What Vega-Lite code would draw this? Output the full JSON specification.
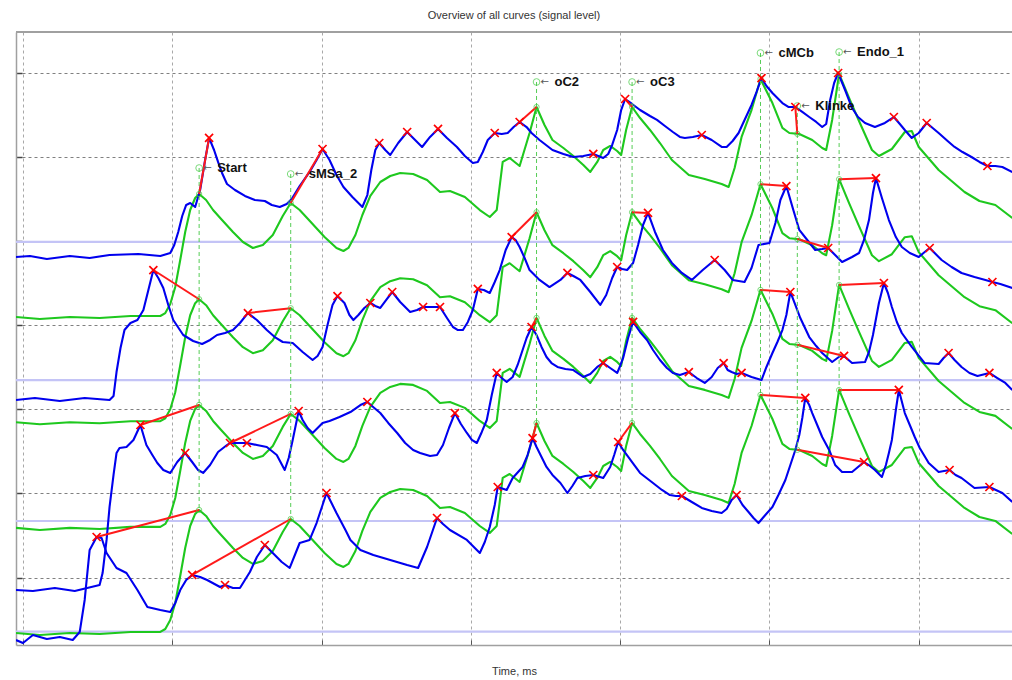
{
  "$schema": "https://vega.github.io/schema/vega-lite/v6.json",
  "width": 996,
  "height": 613,
  "autosize": {"type": "none"},
  "padding": {"left": 16, "top": 32, "right": 0, "bottom": 35},
  "background": "white",
  "title": {"text": "Overview of all curves (signal level)", "font": "Liberation Sans", "fontSize": 11, "fontWeight": "normal", "color": "#333333", "anchor": "middle", "offset": 10},
  "config": {
    "view": {"stroke": null},
    "axisX": {"grid": true, "gridColor": "#a8a8a8", "gridDash": [3, 3], "gridWidth": 1, "labels": false, "ticks": true, "tickSize": -5, "tickColor": "#555555", "domainColor": "#a0a0a0", "domainWidth": 1.5, "titleFont": "Liberation Sans", "titleFontSize": 11, "titleFontWeight": "normal", "titleColor": "#333333", "titlePadding": 20},
    "axisY": {"grid": true, "gridColor": "#808080", "gridDash": [3, 3], "gridWidth": 1, "labels": false, "ticks": true, "tickSize": -6, "tickColor": "#444444", "tickWidth": 1.5, "domainColor": "#a0a0a0", "domainWidth": 1.5}
  },
  "datasets": {
    "baselines": [{"level": 4.79}, {"level": 3.148}, {"level": 1.473}, {"level": 0.158}],
    "frame": [{"level": 7.283}],
    "green": [
      {"time": -7, "g1": 3.897, "g2": 2.647, "g3": 1.391, "g4": 0.143},
      {"time": 17, "g1": 3.873, "g2": 2.623, "g3": 1.367, "g4": 0.119},
      {"time": 47, "g1": 3.897, "g2": 2.647, "g3": 1.391, "g4": 0.143},
      {"time": 77, "g1": 3.885, "g2": 2.635, "g3": 1.379, "g4": 0.131},
      {"time": 108, "g1": 3.909, "g2": 2.659, "g3": 1.403, "g4": 0.155},
      {"time": 138, "g1": 3.909, "g2": 2.659, "g3": 1.403, "g4": 0.155},
      {"time": 143, "g1": 3.944, "g2": 2.694, "g3": 1.438, "g4": 0.19},
      {"time": 148, "g1": 4.051, "g2": 2.801, "g3": 1.545, "g4": 0.297},
      {"time": 153, "g1": 4.253, "g2": 3.003, "g3": 1.747, "g4": 0.499},
      {"time": 158, "g1": 4.574, "g2": 3.324, "g3": 2.068, "g4": 0.82},
      {"time": 163, "g1": 4.907, "g2": 3.657, "g3": 2.401, "g4": 1.153},
      {"time": 168, "g1": 5.168, "g2": 3.918, "g3": 2.662, "g4": 1.414},
      {"time": 173, "g1": 5.311, "g2": 4.061, "g3": 2.805, "g4": 1.557},
      {"time": 177, "g1": 5.358, "g2": 4.108, "g3": 2.852, "g4": 1.604},
      {"time": 184, "g1": 5.287, "g2": 4.037, "g3": 2.781, "g4": 1.533},
      {"time": 191, "g1": 5.168, "g2": 3.918, "g3": 2.662, "g4": 1.414},
      {"time": 200, "g1": 5.049, "g2": 3.799, "g3": 2.543, "g4": 1.295},
      {"time": 211, "g1": 4.907, "g2": 3.657, "g3": 2.401, "g4": 1.153},
      {"time": 221, "g1": 4.788, "g2": 3.538, "g3": 2.282, "g4": 1.034},
      {"time": 231, "g1": 4.717, "g2": 3.467, "g3": 2.211, "g4": 0.963},
      {"time": 241, "g1": 4.752, "g2": 3.502, "g3": 2.246, "g4": 0.998},
      {"time": 251, "g1": 4.871, "g2": 3.621, "g3": 2.365, "g4": 1.117},
      {"time": 261, "g1": 5.097, "g2": 3.847, "g3": 2.591, "g4": 1.343},
      {"time": 269, "g1": 5.251, "g2": 4.001, "g3": 2.745, "g4": 1.497},
      {"time": 278, "g1": 5.168, "g2": 3.918, "g3": 2.662, "g4": 1.414},
      {"time": 291, "g1": 5.002, "g2": 3.752, "g3": 2.496, "g4": 1.248},
      {"time": 303, "g1": 4.847, "g2": 3.597, "g3": 2.341, "g4": 1.093},
      {"time": 315, "g1": 4.717, "g2": 3.467, "g3": 2.211, "g4": 0.963},
      {"time": 322, "g1": 4.681, "g2": 3.431, "g3": 2.175, "g4": 0.927},
      {"time": 327, "g1": 4.717, "g2": 3.467, "g3": 2.211, "g4": 0.963},
      {"time": 334, "g1": 4.871, "g2": 3.621, "g3": 2.365, "g4": 1.117},
      {"time": 341, "g1": 5.109, "g2": 3.859, "g3": 2.603, "g4": 1.355},
      {"time": 349, "g1": 5.335, "g2": 4.085, "g3": 2.829, "g4": 1.581},
      {"time": 359, "g1": 5.501, "g2": 4.251, "g3": 2.995, "g4": 1.747},
      {"time": 369, "g1": 5.572, "g2": 4.322, "g3": 3.066, "g4": 1.818},
      {"time": 379, "g1": 5.608, "g2": 4.358, "g3": 3.102, "g4": 1.854},
      {"time": 392, "g1": 5.596, "g2": 4.346, "g3": 3.09, "g4": 1.842},
      {"time": 406, "g1": 5.525, "g2": 4.275, "g3": 3.019, "g4": 1.771},
      {"time": 419, "g1": 5.382, "g2": 4.132, "g3": 2.876, "g4": 1.628},
      {"time": 429, "g1": 5.394, "g2": 4.144, "g3": 2.888, "g4": 1.64},
      {"time": 444, "g1": 5.323, "g2": 4.073, "g3": 2.817, "g4": 1.569},
      {"time": 459, "g1": 5.168, "g2": 3.918, "g3": 2.662, "g4": 1.414},
      {"time": 469, "g1": 5.085, "g2": 3.835, "g3": 2.579, "g4": 1.331},
      {"time": 476, "g1": 5.168, "g2": 3.918, "g3": 2.662, "g4": 1.414},
      {"time": 482, "g1": 5.739, "g2": 4.489, "g3": 3.233, "g4": 1.985},
      {"time": 489, "g1": 5.786, "g2": 4.536, "g3": 3.28, "g4": 2.032},
      {"time": 499, "g1": 5.691, "g2": 4.441, "g3": 3.185, "g4": 1.937},
      {"time": 509, "g1": 6.083, "g2": 4.833, "g3": 3.577, "g4": 2.329},
      {"time": 516, "g1": 6.392, "g2": 5.142, "g3": 3.886, "g4": 2.638},
      {"time": 524, "g1": 6.178, "g2": 4.928, "g3": 3.672, "g4": 2.424},
      {"time": 532, "g1": 6.0, "g2": 4.75, "g3": 3.494, "g4": 2.246},
      {"time": 543, "g1": 5.905, "g2": 4.655, "g3": 3.399, "g4": 2.151},
      {"time": 553, "g1": 5.81, "g2": 4.56, "g3": 3.304, "g4": 2.056},
      {"time": 563, "g1": 5.703, "g2": 4.453, "g3": 3.197, "g4": 1.949},
      {"time": 570, "g1": 5.62, "g2": 4.37, "g3": 3.114, "g4": 1.866},
      {"time": 577, "g1": 5.739, "g2": 4.489, "g3": 3.233, "g4": 1.985},
      {"time": 583, "g1": 5.881, "g2": 4.631, "g3": 3.375, "g4": 2.127},
      {"time": 590, "g1": 5.929, "g2": 4.679, "g3": 3.423, "g4": 2.175},
      {"time": 597, "g1": 5.869, "g2": 4.619, "g3": 3.363, "g4": 2.115},
      {"time": 601, "g1": 5.822, "g2": 4.572, "g3": 3.316, "g4": 2.068},
      {"time": 606, "g1": 6.119, "g2": 4.869, "g3": 3.613, "g4": 2.365},
      {"time": 612, "g1": 6.392, "g2": 5.142, "g3": 3.886, "g4": 2.638},
      {"time": 620, "g1": 6.261, "g2": 5.011, "g3": 3.755, "g4": 2.507},
      {"time": 630, "g1": 6.119, "g2": 4.869, "g3": 3.613, "g4": 2.365},
      {"time": 640, "g1": 5.964, "g2": 4.714, "g3": 3.458, "g4": 2.21},
      {"time": 652, "g1": 5.762, "g2": 4.512, "g3": 3.256, "g4": 2.008},
      {"time": 669, "g1": 5.584, "g2": 4.334, "g3": 3.078, "g4": 1.83},
      {"time": 685, "g1": 5.537, "g2": 4.287, "g3": 3.031, "g4": 1.783},
      {"time": 702, "g1": 5.477, "g2": 4.227, "g3": 2.971, "g4": 1.723},
      {"time": 709, "g1": 5.442, "g2": 4.192, "g3": 2.936, "g4": 1.688},
      {"time": 715, "g1": 5.667, "g2": 4.417, "g3": 3.161, "g4": 1.913},
      {"time": 722, "g1": 6.036, "g2": 4.786, "g3": 3.53, "g4": 2.282},
      {"time": 732, "g1": 6.356, "g2": 5.106, "g3": 3.85, "g4": 2.602},
      {"time": 741, "g1": 6.725, "g2": 5.475, "g3": 4.219, "g4": 2.971},
      {"time": 753, "g1": 6.439, "g2": 5.189, "g3": 3.933, "g4": 2.685},
      {"time": 763, "g1": 6.143, "g2": 4.893, "g3": 3.637, "g4": 2.389},
      {"time": 770, "g1": 6.083, "g2": 4.833, "g3": 3.577, "g4": 2.329},
      {"time": 780, "g1": 6.071, "g2": 4.821, "g3": 3.565, "g4": 2.317},
      {"time": 793, "g1": 6.0, "g2": 4.75, "g3": 3.494, "g4": 2.246},
      {"time": 803, "g1": 5.905, "g2": 4.655, "g3": 3.399, "g4": 2.151},
      {"time": 807, "g1": 5.881, "g2": 4.631, "g3": 3.375, "g4": 2.127},
      {"time": 813, "g1": 6.238, "g2": 4.988, "g3": 3.732, "g4": 2.484},
      {"time": 820, "g1": 6.784, "g2": 5.534, "g3": 4.278, "g4": 3.03},
      {"time": 830, "g1": 6.499, "g2": 5.249, "g3": 3.993, "g4": 2.745},
      {"time": 840, "g1": 6.226, "g2": 4.976, "g3": 3.72, "g4": 2.472},
      {"time": 853, "g1": 5.881, "g2": 4.631, "g3": 3.375, "g4": 2.127},
      {"time": 860, "g1": 5.81, "g2": 4.56, "g3": 3.304, "g4": 2.056},
      {"time": 873, "g1": 5.893, "g2": 4.643, "g3": 3.387, "g4": 2.139},
      {"time": 886, "g1": 6.095, "g2": 4.845, "g3": 3.589, "g4": 2.341},
      {"time": 893, "g1": 6.107, "g2": 4.857, "g3": 3.601, "g4": 2.353},
      {"time": 900, "g1": 5.917, "g2": 4.667, "g3": 3.411, "g4": 2.163},
      {"time": 920, "g1": 5.643, "g2": 4.393, "g3": 3.137, "g4": 1.889},
      {"time": 946, "g1": 5.382, "g2": 4.132, "g3": 2.876, "g4": 1.628},
      {"time": 961, "g1": 5.275, "g2": 4.025, "g3": 2.769, "g4": 1.521},
      {"time": 977, "g1": 5.228, "g2": 3.978, "g3": 2.722, "g4": 1.474},
      {"time": 994, "g1": 5.073, "g2": 3.823, "g3": 2.567, "g4": 1.319}
    ],
    "blue": [
      {"curve": "b1", "time": -7, "level": 4.61}, {"curve": "b1", "time": 7, "level": 4.622}, {"curve": "b1", "time": 24, "level": 4.586}, {"curve": "b1", "time": 47, "level": 4.622}, {"curve": "b1", "time": 67, "level": 4.598}, {"curve": "b1", "time": 87, "level": 4.634}, {"curve": "b1", "time": 116, "level": 4.645}, {"curve": "b1", "time": 138, "level": 4.622}, {"curve": "b1", "time": 148, "level": 4.657}, {"curve": "b1", "time": 152, "level": 4.752}, {"curve": "b1", "time": 156, "level": 4.907}, {"curve": "b1", "time": 160, "level": 5.097}, {"curve": "b1", "time": 164, "level": 5.228}, {"curve": "b1", "time": 168, "level": 5.251}, {"curve": "b1", "time": 173, "level": 5.204}, {"curve": "b1", "time": 178, "level": 5.406}, {"curve": "b1", "time": 183, "level": 5.762}, {"curve": "b1", "time": 187, "level": 6.024}, {"curve": "b1", "time": 192, "level": 5.881}, {"curve": "b1", "time": 196, "level": 5.739}, {"curve": "b1", "time": 200, "level": 5.608}, {"curve": "b1", "time": 205, "level": 5.477}, {"curve": "b1", "time": 213, "level": 5.406}, {"curve": "b1", "time": 223, "level": 5.335}, {"curve": "b1", "time": 233, "level": 5.287}, {"curve": "b1", "time": 243, "level": 5.275}, {"curve": "b1", "time": 250, "level": 5.228}, {"curve": "b1", "time": 258, "level": 5.204}, {"curve": "b1", "time": 265, "level": 5.24}, {"curve": "b1", "time": 270, "level": 5.299}, {"curve": "b1", "time": 278, "level": 5.453}, {"curve": "b1", "time": 288, "level": 5.62}, {"curve": "b1", "time": 295, "level": 5.762}, {"curve": "b1", "time": 301, "level": 5.893}, {"curve": "b1", "time": 308, "level": 5.762}, {"curve": "b1", "time": 315, "level": 5.584}, {"curve": "b1", "time": 322, "level": 5.442}, {"curve": "b1", "time": 331, "level": 5.323}, {"curve": "b1", "time": 341, "level": 5.204}, {"curve": "b1", "time": 346, "level": 5.346}, {"curve": "b1", "time": 350, "level": 5.643}, {"curve": "b1", "time": 354, "level": 5.881}, {"curve": "b1", "time": 358, "level": 5.964}, {"curve": "b1", "time": 364, "level": 5.881}, {"curve": "b1", "time": 369, "level": 5.822}, {"curve": "b1", "time": 377, "level": 5.964}, {"curve": "b1", "time": 386, "level": 6.095}, {"curve": "b1", "time": 394, "level": 6.0}, {"curve": "b1", "time": 401, "level": 5.917}, {"curve": "b1", "time": 409, "level": 6.036}, {"curve": "b1", "time": 417, "level": 6.131}, {"curve": "b1", "time": 426, "level": 6.024}, {"curve": "b1", "time": 436, "level": 5.917}, {"curve": "b1", "time": 444, "level": 5.81}, {"curve": "b1", "time": 452, "level": 5.727}, {"curve": "b1", "time": 457, "level": 5.739}, {"curve": "b1", "time": 462, "level": 5.857}, {"curve": "b1", "time": 467, "level": 6.0}, {"curve": "b1", "time": 474, "level": 6.083}, {"curve": "b1", "time": 481, "level": 6.071}, {"curve": "b1", "time": 487, "level": 6.083}, {"curve": "b1", "time": 493, "level": 6.154}, {"curve": "b1", "time": 499, "level": 6.214}, {"curve": "b1", "time": 506, "level": 6.154}, {"curve": "b1", "time": 511, "level": 6.083}, {"curve": "b1", "time": 519, "level": 6.0}, {"curve": "b1", "time": 532, "level": 5.881}, {"curve": "b1", "time": 543, "level": 5.834}, {"curve": "b1", "time": 553, "level": 5.798}, {"curve": "b1", "time": 563, "level": 5.81}, {"curve": "b1", "time": 573, "level": 5.834}, {"curve": "b1", "time": 583, "level": 5.786}, {"curve": "b1", "time": 588, "level": 5.834}, {"curve": "b1", "time": 592, "level": 5.941}, {"curve": "b1", "time": 597, "level": 6.119}, {"curve": "b1", "time": 601, "level": 6.356}, {"curve": "b1", "time": 605, "level": 6.487}, {"curve": "b1", "time": 612, "level": 6.428}, {"curve": "b1", "time": 620, "level": 6.356}, {"curve": "b1", "time": 630, "level": 6.285}, {"curve": "b1", "time": 637, "level": 6.238}, {"curve": "b1", "time": 645, "level": 6.166}, {"curve": "b1", "time": 653, "level": 6.095}, {"curve": "b1", "time": 660, "level": 6.036}, {"curve": "b1", "time": 665, "level": 6.024}, {"curve": "b1", "time": 673, "level": 6.036}, {"curve": "b1", "time": 682, "level": 6.059}, {"curve": "b1", "time": 692, "level": 6.0}, {"curve": "b1", "time": 702, "level": 5.917}, {"curve": "b1", "time": 707, "level": 5.917}, {"curve": "b1", "time": 713, "level": 5.988}, {"curve": "b1", "time": 719, "level": 6.083}, {"curve": "b1", "time": 725, "level": 6.238}, {"curve": "b1", "time": 732, "level": 6.416}, {"curve": "b1", "time": 737, "level": 6.57}, {"curve": "b1", "time": 742, "level": 6.736}, {"curve": "b1", "time": 747, "level": 6.641}, {"curve": "b1", "time": 753, "level": 6.558}, {"curve": "b1", "time": 763, "level": 6.439}, {"curve": "b1", "time": 769, "level": 6.392}, {"curve": "b1", "time": 776, "level": 6.392}, {"curve": "b1", "time": 783, "level": 6.333}, {"curve": "b1", "time": 790, "level": 6.273}, {"curve": "b1", "time": 797, "level": 6.214}, {"curve": "b1", "time": 803, "level": 6.154}, {"curve": "b1", "time": 807, "level": 6.19}, {"curve": "b1", "time": 811, "level": 6.475}, {"curve": "b1", "time": 815, "level": 6.677}, {"curve": "b1", "time": 819, "level": 6.796}, {"curve": "b1", "time": 826, "level": 6.594}, {"curve": "b1", "time": 833, "level": 6.38}, {"curve": "b1", "time": 839, "level": 6.273}, {"curve": "b1", "time": 846, "level": 6.202}, {"curve": "b1", "time": 856, "level": 6.154}, {"curve": "b1", "time": 866, "level": 6.202}, {"curve": "b1", "time": 875, "level": 6.273}, {"curve": "b1", "time": 881, "level": 6.19}, {"curve": "b1", "time": 886, "level": 6.119}, {"curve": "b1", "time": 893, "level": 6.024}, {"curve": "b1", "time": 900, "level": 6.083}, {"curve": "b1", "time": 908, "level": 6.202}, {"curve": "b1", "time": 914, "level": 6.143}, {"curve": "b1", "time": 920, "level": 6.083}, {"curve": "b1", "time": 929, "level": 5.988}, {"curve": "b1", "time": 936, "level": 5.917}, {"curve": "b1", "time": 944, "level": 5.857}, {"curve": "b1", "time": 953, "level": 5.798}, {"curve": "b1", "time": 961, "level": 5.739}, {"curve": "b1", "time": 969, "level": 5.691}, {"curve": "b1", "time": 977, "level": 5.691}, {"curve": "b1", "time": 984, "level": 5.679}, {"curve": "b1", "time": 994, "level": 5.62},
      {"curve": "b2", "time": -7, "level": 2.911}, {"curve": "b2", "time": 12, "level": 2.935}, {"curve": "b2", "time": 37, "level": 2.899}, {"curve": "b2", "time": 62, "level": 2.935}, {"curve": "b2", "time": 87, "level": 2.911}, {"curve": "b2", "time": 91, "level": 2.958}, {"curve": "b2", "time": 94, "level": 3.243}, {"curve": "b2", "time": 98, "level": 3.529}, {"curve": "b2", "time": 102, "level": 3.742}, {"curve": "b2", "time": 108, "level": 3.826}, {"curve": "b2", "time": 115, "level": 3.861}, {"curve": "b2", "time": 121, "level": 3.98}, {"curve": "b2", "time": 126, "level": 4.218}, {"curve": "b2", "time": 131, "level": 4.455}, {"curve": "b2", "time": 136, "level": 4.36}, {"curve": "b2", "time": 141, "level": 4.241}, {"curve": "b2", "time": 146, "level": 4.04}, {"curve": "b2", "time": 151, "level": 3.861}, {"curve": "b2", "time": 161, "level": 3.683}, {"curve": "b2", "time": 171, "level": 3.612}, {"curve": "b2", "time": 180, "level": 3.576}, {"curve": "b2", "time": 188, "level": 3.624}, {"curve": "b2", "time": 195, "level": 3.683}, {"curve": "b2", "time": 203, "level": 3.707}, {"curve": "b2", "time": 211, "level": 3.742}, {"curve": "b2", "time": 218, "level": 3.826}, {"curve": "b2", "time": 226, "level": 3.944}, {"curve": "b2", "time": 235, "level": 3.861}, {"curve": "b2", "time": 245, "level": 3.742}, {"curve": "b2", "time": 253, "level": 3.659}, {"curve": "b2", "time": 261, "level": 3.6}, {"curve": "b2", "time": 271, "level": 3.588}, {"curve": "b2", "time": 281, "level": 3.481}, {"curve": "b2", "time": 291, "level": 3.386}, {"curve": "b2", "time": 296, "level": 3.434}, {"curve": "b2", "time": 301, "level": 3.541}, {"curve": "b2", "time": 306, "level": 3.802}, {"curve": "b2", "time": 311, "level": 4.04}, {"curve": "b2", "time": 316, "level": 4.146}, {"curve": "b2", "time": 323, "level": 4.063}, {"curve": "b2", "time": 328, "level": 3.921}, {"curve": "b2", "time": 332, "level": 3.861}, {"curve": "b2", "time": 337, "level": 3.921}, {"curve": "b2", "time": 343, "level": 4.004}, {"curve": "b2", "time": 349, "level": 4.063}, {"curve": "b2", "time": 354, "level": 4.028}, {"curve": "b2", "time": 359, "level": 4.004}, {"curve": "b2", "time": 365, "level": 4.099}, {"curve": "b2", "time": 371, "level": 4.194}, {"curve": "b2", "time": 379, "level": 4.075}, {"curve": "b2", "time": 389, "level": 3.956}, {"curve": "b2", "time": 396, "level": 3.98}, {"curve": "b2", "time": 402, "level": 4.016}, {"curve": "b2", "time": 411, "level": 4.016}, {"curve": "b2", "time": 419, "level": 4.016}, {"curve": "b2", "time": 426, "level": 3.885}, {"curve": "b2", "time": 432, "level": 3.778}, {"curve": "b2", "time": 437, "level": 3.742}, {"curve": "b2", "time": 442, "level": 3.742}, {"curve": "b2", "time": 447, "level": 3.838}, {"curve": "b2", "time": 452, "level": 3.98}, {"curve": "b2", "time": 457, "level": 4.23}, {"curve": "b2", "time": 463, "level": 4.218}, {"curve": "b2", "time": 469, "level": 4.182}, {"curve": "b2", "time": 474, "level": 4.313}, {"curve": "b2", "time": 479, "level": 4.455}, {"curve": "b2", "time": 485, "level": 4.693}, {"curve": "b2", "time": 491, "level": 4.847}, {"curve": "b2", "time": 495, "level": 4.812}, {"curve": "b2", "time": 499, "level": 4.729}, {"curve": "b2", "time": 504, "level": 4.598}, {"curve": "b2", "time": 509, "level": 4.455}, {"curve": "b2", "time": 519, "level": 4.337}, {"curve": "b2", "time": 529, "level": 4.253}, {"curve": "b2", "time": 540, "level": 4.337}, {"curve": "b2", "time": 547, "level": 4.42}, {"curve": "b2", "time": 553, "level": 4.384}, {"curve": "b2", "time": 560, "level": 4.337}, {"curve": "b2", "time": 570, "level": 4.194}, {"curve": "b2", "time": 580, "level": 4.04}, {"curve": "b2", "time": 586, "level": 4.158}, {"curve": "b2", "time": 592, "level": 4.36}, {"curve": "b2", "time": 597, "level": 4.491}, {"curve": "b2", "time": 602, "level": 4.467}, {"curve": "b2", "time": 607, "level": 4.455}, {"curve": "b2", "time": 613, "level": 4.539}, {"curve": "b2", "time": 618, "level": 4.752}, {"curve": "b2", "time": 623, "level": 4.99}, {"curve": "b2", "time": 628, "level": 5.133}, {"curve": "b2", "time": 635, "level": 4.907}, {"curve": "b2", "time": 643, "level": 4.693}, {"curve": "b2", "time": 652, "level": 4.539}, {"curve": "b2", "time": 662, "level": 4.42}, {"curve": "b2", "time": 672, "level": 4.337}, {"curve": "b2", "time": 683, "level": 4.455}, {"curve": "b2", "time": 695, "level": 4.574}, {"curve": "b2", "time": 705, "level": 4.455}, {"curve": "b2", "time": 713, "level": 4.337}, {"curve": "b2", "time": 725, "level": 4.313}, {"curve": "b2", "time": 732, "level": 4.479}, {"curve": "b2", "time": 739, "level": 4.752}, {"curve": "b2", "time": 750, "level": 4.776}, {"curve": "b2", "time": 756, "level": 5.014}, {"curve": "b2", "time": 761, "level": 5.287}, {"curve": "b2", "time": 767, "level": 5.453}, {"curve": "b2", "time": 774, "level": 5.168}, {"curve": "b2", "time": 780, "level": 4.931}, {"curve": "b2", "time": 788, "level": 4.812}, {"curve": "b2", "time": 796, "level": 4.693}, {"curve": "b2", "time": 803, "level": 4.705}, {"curve": "b2", "time": 809, "level": 4.717}, {"curve": "b2", "time": 816, "level": 4.634}, {"curve": "b2", "time": 823, "level": 4.551}, {"curve": "b2", "time": 833, "level": 4.61}, {"curve": "b2", "time": 840, "level": 4.657}, {"curve": "b2", "time": 845, "level": 4.812}, {"curve": "b2", "time": 850, "level": 5.049}, {"curve": "b2", "time": 854, "level": 5.37}, {"curve": "b2", "time": 857, "level": 5.548}, {"curve": "b2", "time": 863, "level": 5.311}, {"curve": "b2", "time": 870, "level": 5.049}, {"curve": "b2", "time": 877, "level": 4.847}, {"curve": "b2", "time": 883, "level": 4.729}, {"curve": "b2", "time": 891, "level": 4.657}, {"curve": "b2", "time": 900, "level": 4.61}, {"curve": "b2", "time": 906, "level": 4.669}, {"curve": "b2", "time": 911, "level": 4.717}, {"curve": "b2", "time": 917, "level": 4.645}, {"curve": "b2", "time": 923, "level": 4.574}, {"curve": "b2", "time": 933, "level": 4.491}, {"curve": "b2", "time": 943, "level": 4.42}, {"curve": "b2", "time": 956, "level": 4.372}, {"curve": "b2", "time": 967, "level": 4.337}, {"curve": "b2", "time": 974, "level": 4.313}, {"curve": "b2", "time": 982, "level": 4.289}, {"curve": "b2", "time": 994, "level": 4.241},
      {"curve": "b3", "time": -7, "level": 0.653}, {"curve": "b3", "time": 10, "level": 0.642}, {"curve": "b3", "time": 32, "level": 0.677}, {"curve": "b3", "time": 52, "level": 0.642}, {"curve": "b3", "time": 77, "level": 0.713}, {"curve": "b3", "time": 80, "level": 0.855}, {"curve": "b3", "time": 84, "level": 1.248}, {"curve": "b3", "time": 87, "level": 1.64}, {"curve": "b3", "time": 91, "level": 2.02}, {"curve": "b3", "time": 94, "level": 2.281}, {"curve": "b3", "time": 97, "level": 2.341}, {"curve": "b3", "time": 104, "level": 2.352}, {"curve": "b3", "time": 111, "level": 2.436}, {"curve": "b3", "time": 118, "level": 2.614}, {"curve": "b3", "time": 124, "level": 2.376}, {"curve": "b3", "time": 130, "level": 2.257}, {"curve": "b3", "time": 135, "level": 2.162}, {"curve": "b3", "time": 141, "level": 2.079}, {"curve": "b3", "time": 148, "level": 2.044}, {"curve": "b3", "time": 155, "level": 2.174}, {"curve": "b3", "time": 163, "level": 2.281}, {"curve": "b3", "time": 170, "level": 2.174}, {"curve": "b3", "time": 176, "level": 2.079}, {"curve": "b3", "time": 181, "level": 2.044}, {"curve": "b3", "time": 188, "level": 2.139}, {"curve": "b3", "time": 196, "level": 2.293}, {"curve": "b3", "time": 205, "level": 2.376}, {"curve": "b3", "time": 208, "level": 2.4}, {"curve": "b3", "time": 216, "level": 2.4}, {"curve": "b3", "time": 225, "level": 2.4}, {"curve": "b3", "time": 235, "level": 2.376}, {"curve": "b3", "time": 245, "level": 2.352}, {"curve": "b3", "time": 255, "level": 2.257}, {"curve": "b3", "time": 263, "level": 2.079}, {"curve": "b3", "time": 267, "level": 2.222}, {"curve": "b3", "time": 271, "level": 2.436}, {"curve": "b3", "time": 277, "level": 2.78}, {"curve": "b3", "time": 281, "level": 2.673}, {"curve": "b3", "time": 286, "level": 2.578}, {"curve": "b3", "time": 291, "level": 2.519}, {"curve": "b3", "time": 296, "level": 2.578}, {"curve": "b3", "time": 301, "level": 2.638}, {"curve": "b3", "time": 308, "level": 2.661}, {"curve": "b3", "time": 318, "level": 2.709}, {"curve": "b3", "time": 329, "level": 2.768}, {"curve": "b3", "time": 339, "level": 2.851}, {"curve": "b3", "time": 346, "level": 2.887}, {"curve": "b3", "time": 353, "level": 2.816}, {"curve": "b3", "time": 359, "level": 2.756}, {"curve": "b3", "time": 367, "level": 2.638}, {"curve": "b3", "time": 376, "level": 2.519}, {"curve": "b3", "time": 384, "level": 2.4}, {"curve": "b3", "time": 392, "level": 2.317}, {"curve": "b3", "time": 399, "level": 2.281}, {"curve": "b3", "time": 409, "level": 2.245}, {"curve": "b3", "time": 416, "level": 2.257}, {"curve": "b3", "time": 422, "level": 2.376}, {"curve": "b3", "time": 428, "level": 2.578}, {"curve": "b3", "time": 434, "level": 2.756}, {"curve": "b3", "time": 440, "level": 2.626}, {"curve": "b3", "time": 446, "level": 2.519}, {"curve": "b3", "time": 451, "level": 2.436}, {"curve": "b3", "time": 456, "level": 2.4}, {"curve": "b3", "time": 461, "level": 2.531}, {"curve": "b3", "time": 466, "level": 2.673}, {"curve": "b3", "time": 471, "level": 2.97}, {"curve": "b3", "time": 476, "level": 3.232}, {"curve": "b3", "time": 481, "level": 3.172}, {"curve": "b3", "time": 486, "level": 3.125}, {"curve": "b3", "time": 492, "level": 3.184}, {"curve": "b3", "time": 497, "level": 3.327}, {"curve": "b3", "time": 501, "level": 3.469}, {"curve": "b3", "time": 506, "level": 3.647}, {"curve": "b3", "time": 511, "level": 3.778}, {"curve": "b3", "time": 516, "level": 3.683}, {"curve": "b3", "time": 521, "level": 3.541}, {"curve": "b3", "time": 526, "level": 3.422}, {"curve": "b3", "time": 531, "level": 3.35}, {"curve": "b3", "time": 537, "level": 3.303}, {"curve": "b3", "time": 545, "level": 3.279}, {"curve": "b3", "time": 553, "level": 3.267}, {"curve": "b3", "time": 563, "level": 3.184}, {"curve": "b3", "time": 570, "level": 3.22}, {"curve": "b3", "time": 577, "level": 3.303}, {"curve": "b3", "time": 583, "level": 3.35}, {"curve": "b3", "time": 590, "level": 3.291}, {"curve": "b3", "time": 597, "level": 3.232}, {"curve": "b3", "time": 600, "level": 3.315}, {"curve": "b3", "time": 603, "level": 3.41}, {"curve": "b3", "time": 608, "level": 3.647}, {"curve": "b3", "time": 613, "level": 3.838}, {"curve": "b3", "time": 620, "level": 3.719}, {"curve": "b3", "time": 627, "level": 3.624}, {"curve": "b3", "time": 633, "level": 3.505}, {"curve": "b3", "time": 640, "level": 3.386}, {"curve": "b3", "time": 647, "level": 3.291}, {"curve": "b3", "time": 653, "level": 3.232}, {"curve": "b3", "time": 660, "level": 3.208}, {"curve": "b3", "time": 669, "level": 3.243}, {"curve": "b3", "time": 677, "level": 3.172}, {"curve": "b3", "time": 685, "level": 3.113}, {"curve": "b3", "time": 692, "level": 3.184}, {"curve": "b3", "time": 698, "level": 3.291}, {"curve": "b3", "time": 704, "level": 3.35}, {"curve": "b3", "time": 708, "level": 3.267}, {"curve": "b3", "time": 712, "level": 3.243}, {"curve": "b3", "time": 717, "level": 3.22}, {"curve": "b3", "time": 722, "level": 3.232}, {"curve": "b3", "time": 732, "level": 3.184}, {"curve": "b3", "time": 742, "level": 3.148}, {"curve": "b3", "time": 747, "level": 3.303}, {"curve": "b3", "time": 753, "level": 3.469}, {"curve": "b3", "time": 758, "level": 3.6}, {"curve": "b3", "time": 763, "level": 3.742}, {"curve": "b3", "time": 767, "level": 3.921}, {"curve": "b3", "time": 771, "level": 4.194}, {"curve": "b3", "time": 776, "level": 4.04}, {"curve": "b3", "time": 781, "level": 3.885}, {"curve": "b3", "time": 790, "level": 3.659}, {"curve": "b3", "time": 797, "level": 3.552}, {"curve": "b3", "time": 803, "level": 3.469}, {"curve": "b3", "time": 813, "level": 3.362}, {"curve": "b3", "time": 821, "level": 3.434}, {"curve": "b3", "time": 826, "level": 3.422}, {"curve": "b3", "time": 833, "level": 3.35}, {"curve": "b3", "time": 846, "level": 3.362}, {"curve": "b3", "time": 850, "level": 3.481}, {"curve": "b3", "time": 854, "level": 3.683}, {"curve": "b3", "time": 860, "level": 4.063}, {"curve": "b3", "time": 865, "level": 4.301}, {"curve": "b3", "time": 869, "level": 4.182}, {"curve": "b3", "time": 873, "level": 4.016}, {"curve": "b3", "time": 878, "level": 3.838}, {"curve": "b3", "time": 883, "level": 3.707}, {"curve": "b3", "time": 893, "level": 3.541}, {"curve": "b3", "time": 906, "level": 3.35}, {"curve": "b3", "time": 920, "level": 3.339}, {"curve": "b3", "time": 925, "level": 3.41}, {"curve": "b3", "time": 930, "level": 3.469}, {"curve": "b3", "time": 936, "level": 3.386}, {"curve": "b3", "time": 943, "level": 3.303}, {"curve": "b3", "time": 951, "level": 3.232}, {"curve": "b3", "time": 959, "level": 3.196}, {"curve": "b3", "time": 971, "level": 3.232}, {"curve": "b3", "time": 979, "level": 3.172}, {"curve": "b3", "time": 987, "level": 3.113}, {"curve": "b3", "time": 994, "level": 3.03},
      {"curve": "b4", "time": -7, "level": 0.059}, {"curve": "b4", "time": 0, "level": 0.024}, {"curve": "b4", "time": 10, "level": 0.119}, {"curve": "b4", "time": 24, "level": 0.071}, {"curve": "b4", "time": 37, "level": 0.095}, {"curve": "b4", "time": 50, "level": 0.059}, {"curve": "b4", "time": 57, "level": 0.154}, {"curve": "b4", "time": 62, "level": 0.535}, {"curve": "b4", "time": 67, "level": 1.129}, {"curve": "b4", "time": 74, "level": 1.283}, {"curve": "b4", "time": 79, "level": 1.271}, {"curve": "b4", "time": 84, "level": 1.093}, {"curve": "b4", "time": 94, "level": 0.915}, {"curve": "b4", "time": 104, "level": 0.855}, {"curve": "b4", "time": 115, "level": 0.653}, {"curve": "b4", "time": 125, "level": 0.451}, {"curve": "b4", "time": 138, "level": 0.416}, {"curve": "b4", "time": 148, "level": 0.392}, {"curve": "b4", "time": 153, "level": 0.499}, {"curve": "b4", "time": 158, "level": 0.653}, {"curve": "b4", "time": 164, "level": 0.772}, {"curve": "b4", "time": 170, "level": 0.832}, {"curve": "b4", "time": 178, "level": 0.808}, {"curve": "b4", "time": 185, "level": 0.772}, {"curve": "b4", "time": 198, "level": 0.689}, {"curve": "b4", "time": 203, "level": 0.713}, {"curve": "b4", "time": 211, "level": 0.677}, {"curve": "b4", "time": 218, "level": 0.677}, {"curve": "b4", "time": 228, "level": 0.867}, {"curve": "b4", "time": 235, "level": 1.046}, {"curve": "b4", "time": 243, "level": 1.188}, {"curve": "b4", "time": 251, "level": 1.093}, {"curve": "b4", "time": 260, "level": 0.986}, {"curve": "b4", "time": 268, "level": 0.915}, {"curve": "b4", "time": 278, "level": 1.212}, {"curve": "b4", "time": 288, "level": 1.248}, {"curve": "b4", "time": 295, "level": 1.449}, {"curve": "b4", "time": 300, "level": 1.628}, {"curve": "b4", "time": 305, "level": 1.806}, {"curve": "b4", "time": 310, "level": 1.687}, {"curve": "b4", "time": 315, "level": 1.568}, {"curve": "b4", "time": 324, "level": 1.366}, {"curve": "b4", "time": 329, "level": 1.248}, {"curve": "b4", "time": 339, "level": 1.129}, {"curve": "b4", "time": 352, "level": 1.069}, {"curve": "b4", "time": 369, "level": 1.01}, {"curve": "b4", "time": 386, "level": 0.95}, {"curve": "b4", "time": 397, "level": 0.915}, {"curve": "b4", "time": 406, "level": 1.164}, {"curve": "b4", "time": 416, "level": 1.509}, {"curve": "b4", "time": 422, "level": 1.438}, {"curve": "b4", "time": 429, "level": 1.366}, {"curve": "b4", "time": 446, "level": 1.248}, {"curve": "b4", "time": 459, "level": 1.093}, {"curve": "b4", "time": 464, "level": 1.224}, {"curve": "b4", "time": 469, "level": 1.402}, {"curve": "b4", "time": 474, "level": 1.663}, {"curve": "b4", "time": 477, "level": 1.877}, {"curve": "b4", "time": 486, "level": 1.842}, {"curve": "b4", "time": 492, "level": 1.984}, {"curve": "b4", "time": 502, "level": 2.115}, {"curve": "b4", "time": 507, "level": 2.257}, {"curve": "b4", "time": 512, "level": 2.459}, {"curve": "b4", "time": 516, "level": 2.352}, {"curve": "b4", "time": 521, "level": 2.234}, {"curve": "b4", "time": 526, "level": 2.115}, {"curve": "b4", "time": 532, "level": 2.02}, {"curve": "b4", "time": 540, "level": 1.925}, {"curve": "b4", "time": 547, "level": 1.806}, {"curve": "b4", "time": 552, "level": 1.889}, {"curve": "b4", "time": 557, "level": 1.984}, {"curve": "b4", "time": 565, "level": 2.008}, {"curve": "b4", "time": 573, "level": 2.02}, {"curve": "b4", "time": 583, "level": 1.984}, {"curve": "b4", "time": 590, "level": 2.115}, {"curve": "b4", "time": 594, "level": 2.257}, {"curve": "b4", "time": 598, "level": 2.412}, {"curve": "b4", "time": 603, "level": 2.317}, {"curve": "b4", "time": 612, "level": 2.174}, {"curve": "b4", "time": 620, "level": 2.044}, {"curve": "b4", "time": 633, "level": 1.925}, {"curve": "b4", "time": 642, "level": 1.842}, {"curve": "b4", "time": 650, "level": 1.782}, {"curve": "b4", "time": 656, "level": 1.77}, {"curve": "b4", "time": 662, "level": 1.77}, {"curve": "b4", "time": 672, "level": 1.699}, {"curve": "b4", "time": 682, "level": 1.628}, {"curve": "b4", "time": 692, "level": 1.592}, {"curve": "b4", "time": 702, "level": 1.568}, {"curve": "b4", "time": 707, "level": 1.616}, {"curve": "b4", "time": 712, "level": 1.723}, {"curve": "b4", "time": 717, "level": 1.782}, {"curve": "b4", "time": 723, "level": 1.663}, {"curve": "b4", "time": 729, "level": 1.58}, {"curve": "b4", "time": 734, "level": 1.509}, {"curve": "b4", "time": 739, "level": 1.449}, {"curve": "b4", "time": 745, "level": 1.533}, {"curve": "b4", "time": 753, "level": 1.64}, {"curve": "b4", "time": 759, "level": 1.782}, {"curve": "b4", "time": 766, "level": 1.96}, {"curve": "b4", "time": 771, "level": 2.139}, {"curve": "b4", "time": 776, "level": 2.317}, {"curve": "b4", "time": 780, "level": 2.495}, {"curve": "b4", "time": 783, "level": 2.697}, {"curve": "b4", "time": 786, "level": 2.935}, {"curve": "b4", "time": 790, "level": 2.851}, {"curve": "b4", "time": 793, "level": 2.756}, {"curve": "b4", "time": 798, "level": 2.614}, {"curve": "b4", "time": 803, "level": 2.471}, {"curve": "b4", "time": 810, "level": 2.317}, {"curve": "b4", "time": 816, "level": 2.139}, {"curve": "b4", "time": 823, "level": 2.055}, {"curve": "b4", "time": 833, "level": 2.055}, {"curve": "b4", "time": 839, "level": 2.115}, {"curve": "b4", "time": 845, "level": 2.174}, {"curve": "b4", "time": 851, "level": 2.127}, {"curve": "b4", "time": 856, "level": 2.079}, {"curve": "b4", "time": 863, "level": 1.996}, {"curve": "b4", "time": 867, "level": 2.139}, {"curve": "b4", "time": 870, "level": 2.281}, {"curve": "b4", "time": 873, "level": 2.436}, {"curve": "b4", "time": 877, "level": 2.792}, {"curve": "b4", "time": 880, "level": 3.03}, {"curve": "b4", "time": 886, "level": 2.756}, {"curve": "b4", "time": 891, "level": 2.614}, {"curve": "b4", "time": 896, "level": 2.471}, {"curve": "b4", "time": 901, "level": 2.341}, {"curve": "b4", "time": 910, "level": 2.162}, {"curve": "b4", "time": 920, "level": 2.055}, {"curve": "b4", "time": 931, "level": 2.079}, {"curve": "b4", "time": 937, "level": 2.02}, {"curve": "b4", "time": 943, "level": 1.984}, {"curve": "b4", "time": 956, "level": 1.865}, {"curve": "b4", "time": 971, "level": 1.877}, {"curve": "b4", "time": 984, "level": 1.806}, {"curve": "b4", "time": 994, "level": 1.699}
    ],
    "events": [
      {"event": "Start", "time": 177, "top": 5.667, "bottom": 1.604},
      {"event": "sMSa_2", "time": 269, "top": 5.596, "bottom": 1.497},
      {"event": "oC2", "time": 516, "top": 6.689, "bottom": 2.638},
      {"event": "oC3", "time": 612, "top": 6.689, "bottom": 2.638},
      {"event": "cMCb", "time": 741, "top": 7.034, "bottom": 2.971},
      {"event": "Klinke", "time": 778, "top": 6.404, "bottom": 2.319},
      {"event": "Endo_1", "time": 820, "top": 7.045, "bottom": 3.03}
    ],
    "links": [
      {"pair": 1, "event": "Start", "time": 177, "level": 5.358, "btime": 187, "blevel": 6.024},
      {"pair": 1, "event": "sMSa_2", "time": 269, "level": 5.251, "btime": 301, "blevel": 5.893},
      {"pair": 1, "event": "oC2", "time": 516, "level": 6.392, "btime": 499, "blevel": 6.214},
      {"pair": 1, "event": "oC3", "time": 612, "level": 6.392, "btime": 605, "blevel": 6.487},
      {"pair": 1, "event": "cMCb", "time": 741, "level": 6.725, "btime": 742, "blevel": 6.736},
      {"pair": 1, "event": "Klinke", "time": 778, "level": 6.073, "btime": 776, "blevel": 6.392},
      {"pair": 1, "event": "Endo_1", "time": 820, "level": 6.784, "btime": 819, "blevel": 6.796},
      {"pair": 2, "event": "Start", "time": 177, "level": 4.108, "btime": 131, "blevel": 4.455},
      {"pair": 2, "event": "sMSa_2", "time": 269, "level": 4.001, "btime": 226, "blevel": 3.944},
      {"pair": 2, "event": "oC2", "time": 516, "level": 5.142, "btime": 491, "blevel": 4.847},
      {"pair": 2, "event": "oC3", "time": 612, "level": 5.142, "btime": 628, "blevel": 5.133},
      {"pair": 2, "event": "cMCb", "time": 741, "level": 5.475, "btime": 767, "blevel": 5.453},
      {"pair": 2, "event": "Klinke", "time": 778, "level": 4.823, "btime": 809, "blevel": 4.717},
      {"pair": 2, "event": "Endo_1", "time": 820, "level": 5.534, "btime": 857, "blevel": 5.548},
      {"pair": 3, "event": "Start", "time": 177, "level": 2.852, "btime": 118, "blevel": 2.614},
      {"pair": 3, "event": "sMSa_2", "time": 269, "level": 2.745, "btime": 208, "blevel": 2.4},
      {"pair": 3, "event": "oC2", "time": 516, "level": 3.886, "btime": 511, "blevel": 3.778},
      {"pair": 3, "event": "oC3", "time": 612, "level": 3.886, "btime": 613, "blevel": 3.838},
      {"pair": 3, "event": "cMCb", "time": 741, "level": 4.219, "btime": 771, "blevel": 4.194},
      {"pair": 3, "event": "Klinke", "time": 778, "level": 3.567, "btime": 825, "blevel": 3.434},
      {"pair": 3, "event": "Endo_1", "time": 820, "level": 4.278, "btime": 865, "blevel": 4.301},
      {"pair": 4, "event": "Start", "time": 177, "level": 1.604, "btime": 74, "blevel": 1.283},
      {"pair": 4, "event": "sMSa_2", "time": 269, "level": 1.497, "btime": 170, "blevel": 0.832},
      {"pair": 4, "event": "oC2", "time": 516, "level": 2.638, "btime": 512, "blevel": 2.459},
      {"pair": 4, "event": "oC3", "time": 612, "level": 2.638, "btime": 598, "blevel": 2.412},
      {"pair": 4, "event": "cMCb", "time": 741, "level": 2.971, "btime": 786, "blevel": 2.935},
      {"pair": 4, "event": "Klinke", "time": 778, "level": 2.319, "btime": 845, "blevel": 2.174},
      {"pair": 4, "event": "Endo_1", "time": 820, "level": 3.03, "btime": 880, "blevel": 3.03}
    ],
    "peaks": [
      {"curve": "b1", "time": 358, "level": 5.964}, {"curve": "b1", "time": 386, "level": 6.095}, {"curve": "b1", "time": 417, "level": 6.131}, {"curve": "b1", "time": 474, "level": 6.083}, {"curve": "b1", "time": 573, "level": 5.834}, {"curve": "b1", "time": 682, "level": 6.059}, {"curve": "b1", "time": 875, "level": 6.273}, {"curve": "b1", "time": 908, "level": 6.202}, {"curve": "b1", "time": 969, "level": 5.691},
      {"curve": "b2", "time": 316, "level": 4.146}, {"curve": "b2", "time": 349, "level": 4.063}, {"curve": "b2", "time": 371, "level": 4.194}, {"curve": "b2", "time": 402, "level": 4.016}, {"curve": "b2", "time": 419, "level": 4.016}, {"curve": "b2", "time": 457, "level": 4.23}, {"curve": "b2", "time": 547, "level": 4.42}, {"curve": "b2", "time": 597, "level": 4.491}, {"curve": "b2", "time": 695, "level": 4.574}, {"curve": "b2", "time": 911, "level": 4.717}, {"curve": "b2", "time": 974, "level": 4.313},
      {"curve": "b3", "time": 163, "level": 2.281}, {"curve": "b3", "time": 225, "level": 2.4}, {"curve": "b3", "time": 277, "level": 2.78}, {"curve": "b3", "time": 346, "level": 2.887}, {"curve": "b3", "time": 434, "level": 2.756}, {"curve": "b3", "time": 476, "level": 3.232}, {"curve": "b3", "time": 583, "level": 3.35}, {"curve": "b3", "time": 669, "level": 3.243}, {"curve": "b3", "time": 704, "level": 3.35}, {"curve": "b3", "time": 722, "level": 3.232}, {"curve": "b3", "time": 930, "level": 3.469}, {"curve": "b3", "time": 971, "level": 3.232},
      {"curve": "b4", "time": 203, "level": 0.713}, {"curve": "b4", "time": 243, "level": 1.188}, {"curve": "b4", "time": 305, "level": 1.806}, {"curve": "b4", "time": 416, "level": 1.509}, {"curve": "b4", "time": 477, "level": 1.877}, {"curve": "b4", "time": 573, "level": 2.02}, {"curve": "b4", "time": 662, "level": 1.77}, {"curve": "b4", "time": 717, "level": 1.782}, {"curve": "b4", "time": 931, "level": 2.079}, {"curve": "b4", "time": 971, "level": 1.877}
    ]
  },
  "layer": [
    {
      "data": {"name": "baselines"},
      "mark": {"type": "rule", "color": "#c4c4f6", "strokeWidth": 2.2},
      "encoding": {
        "y": {"field": "level", "type": "quantitative", "title": null, "scale": {"domain": [0, 7.283], "nice": false, "zero": false}, "axis": {"values": [0.8, 1.8, 2.8, 3.8, 4.8, 5.8, 6.8]}}
      }
    },
    {
      "data": {"name": "frame"},
      "mark": {"type": "rule", "color": "#a0a0a0", "strokeWidth": 2},
      "encoding": {
        "y": {"field": "level", "type": "quantitative", "title": null}
      }
    },
    {
      "data": {"name": "green"},
      "transform": [{"fold": ["g1", "g2", "g3", "g4"], "as": ["curve", "level"]}],
      "mark": {"type": "line", "color": "#1ec81e", "strokeWidth": 2.1, "clip": true, "strokeJoin": "round"},
      "encoding": {
        "x": {"field": "time", "type": "quantitative", "title": "Time, ms", "scale": {"domain": [-7, 993.7], "nice": false, "zero": false}, "axis": {"values": [0, 150, 300, 450, 600, 750, 900]}},
        "y": {"field": "level", "type": "quantitative", "title": null},
        "detail": {"field": "curve", "type": "nominal"}
      }
    },
    {
      "data": {"name": "blue"},
      "mark": {"type": "line", "color": "#0000ee", "strokeWidth": 2.1, "clip": true, "strokeJoin": "round"},
      "encoding": {
        "x": {"field": "time", "type": "quantitative", "title": "Time, ms"},
        "y": {"field": "level", "type": "quantitative", "title": null},
        "detail": {"field": "curve", "type": "nominal"}
      }
    },
    {
      "data": {"name": "events"},
      "mark": {"type": "rule", "color": "#55cc55", "strokeWidth": 1, "strokeDash": [4, 3]},
      "encoding": {
        "x": {"field": "time", "type": "quantitative", "title": "Time, ms"},
        "y": {"field": "top", "type": "quantitative", "title": null},
        "y2": {"field": "bottom"}
      }
    },
    {
      "data": {"name": "links"},
      "mark": {"type": "rule", "color": "#ff1a1a", "strokeWidth": 2},
      "encoding": {
        "x": {"field": "time", "type": "quantitative", "title": "Time, ms"},
        "y": {"field": "level", "type": "quantitative", "title": null},
        "x2": {"field": "btime", "title": "Time, ms"},
        "y2": {"field": "blevel", "title": null}
      }
    },
    {
      "data": {"name": "links"},
      "mark": {"type": "point", "shape": "circle", "filled": false, "stroke": "#44cc44", "strokeWidth": 1, "size": 28},
      "encoding": {
        "x": {"field": "time", "type": "quantitative", "title": "Time, ms"},
        "y": {"field": "level", "type": "quantitative", "title": null}
      }
    },
    {
      "data": {"name": "events"},
      "mark": {"type": "point", "shape": "circle", "filled": false, "stroke": "#44cc44", "strokeWidth": 1, "size": 45},
      "encoding": {
        "x": {"field": "time", "type": "quantitative", "title": "Time, ms"},
        "y": {"field": "top", "type": "quantitative", "title": null}
      }
    },
    {
      "data": {"name": "links"},
      "mark": {"type": "point", "shape": "M-1,-1L1,1M-1,1L1,-1", "filled": false, "stroke": "#ff0000", "strokeWidth": 1.7, "size": 64, "opacity": 1},
      "encoding": {
        "x": {"field": "btime", "type": "quantitative", "title": "Time, ms"},
        "y": {"field": "blevel", "type": "quantitative", "title": null}
      }
    },
    {
      "data": {"name": "peaks"},
      "mark": {"type": "point", "shape": "M-1,-1L1,1M-1,1L1,-1", "filled": false, "stroke": "#ff0000", "strokeWidth": 1.7, "size": 64, "opacity": 1},
      "encoding": {
        "x": {"field": "time", "type": "quantitative", "title": "Time, ms"},
        "y": {"field": "level", "type": "quantitative", "title": null}
      }
    },
    {
      "data": {"name": "events"},
      "mark": {"type": "text", "text": "←", "font": "DejaVu Sans", "fontSize": 10, "color": "#555555", "align": "left", "baseline": "middle", "dx": 4},
      "encoding": {
        "x": {"field": "time", "type": "quantitative", "title": "Time, ms"},
        "y": {"field": "top", "type": "quantitative", "title": null}
      }
    },
    {
      "data": {"name": "events"},
      "mark": {"type": "text", "font": "Liberation Sans", "fontSize": 13, "fontWeight": "bold", "color": "#111111", "align": "left", "baseline": "middle", "dx": 18},
      "encoding": {
        "x": {"field": "time", "type": "quantitative", "title": "Time, ms"},
        "y": {"field": "top", "type": "quantitative", "title": null},
        "text": {"field": "event", "type": "nominal"}
      }
    }
  ]
}
